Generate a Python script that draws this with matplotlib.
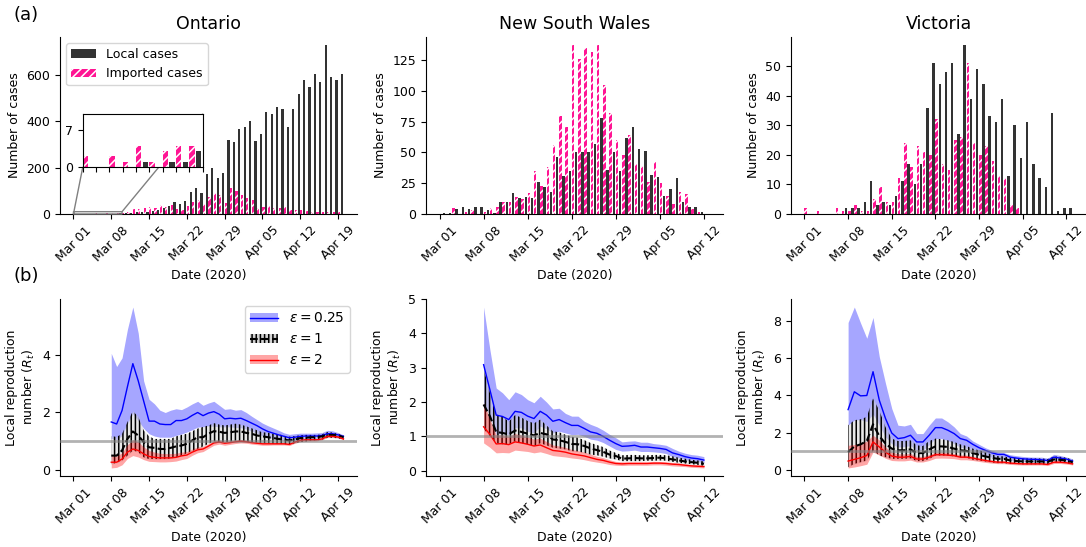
import numpy as np
import matplotlib
matplotlib.use('Agg')
import matplotlib.pyplot as plt
import matplotlib.dates as mdates
from matplotlib.patches import Patch
from matplotlib.lines import Line2D

plt.rcParams['font.size'] = 9
plt.rcParams['hatch.linewidth'] = 1.1

# daily case counts, first entry = Mar 01 2020
on_local = [0, 0, 0, 0, 1, 0, 1, 1, 3, 4, 6, 8, 10, 8, 12, 18, 26, 35, 52, 43,
            56, 95, 113, 91, 174, 200, 156, 177, 321, 312, 369, 377, 403, 317, 344,
            442, 434, 463, 452, 377, 455, 520, 581, 547, 607, 569, 729, 593, 581, 607]
on_imported = [2, 0, 2, 1, 4, 1, 3, 4, 4, 5, 10, 22, 20, 25, 29, 26, 38, 32, 40, 20,
               17, 36, 52, 60, 42, 75, 90, 80, 46, 114, 98, 81, 69, 62, 25,
               32, 35, 27, 26, 29, 17, 16, 19, 12, 9, 7, 10, 10, 9, 7]

nsw_local = [1, 1, 4, 6, 4, 6, 6, 3, 1, 10, 10, 17, 13, 14, 13, 26, 22, 18, 46, 31,
             35, 50, 50, 50, 57, 78, 36, 50, 35, 62, 71, 53, 51, 32, 30, 15, 20,
             29, 10, 6, 6, 2, 0]
nsw_imported = [0, 0, 5, 0, 2, 3, 0, 2, 5, 6, 10, 10, 14, 12, 17, 35, 23, 38, 56, 80,
                71, 137, 126, 135, 132, 137, 105, 82, 60, 48, 64, 41, 39, 26, 42, 25,
                15, 8, 18, 16, 4, 2, 0]

vic_local = [0, 0, 0, 0, 0, 0, 2, 2, 2, 4, 11, 3, 4, 3, 6, 11, 17, 10, 17, 36,
             51, 44, 48, 51, 27, 57, 39, 49, 44, 33, 31, 39, 13, 30, 19, 31, 17,
             12, 9, 34, 1, 2, 2]
vic_imported = [2, 0, 1, 0, 0, 2, 1, 1, 3, 1, 1, 5, 9, 4, 4, 12, 24, 16, 23, 21,
                20, 32, 17, 15, 25, 26, 51, 24, 20, 23, 18, 13, 12, 3, 2, 0, 0,
                0, 0, 0, 0, 0, 0]

# R_t estimates, first entry = Mar 08 2020
on_r025 = [1.67, 1.60, 2.07, 2.90, 3.70, 3.10, 2.40, 1.70, 1.70, 1.60, 1.58, 1.58, 1.72, 1.72, 1.78,
           1.90, 2.00, 1.89, 1.98, 2.03, 1.94, 1.78, 1.80, 1.78, 1.80, 1.72, 1.63, 1.54, 1.43, 1.34,
           1.28, 1.22, 1.17, 1.12, 1.14, 1.17, 1.18, 1.18, 1.18, 1.20, 1.26, 1.26, 1.22, 1.17]
on_r025_hi = [4.06, 3.60, 3.90, 4.90, 5.67, 4.76, 3.10, 2.46, 2.30, 2.08, 2.00, 2.08, 2.13, 2.10, 2.19,
              2.30, 2.39, 2.25, 2.33, 2.39, 2.25, 2.11, 2.13, 2.08, 2.10, 2.00, 1.87, 1.75, 1.63, 1.54,
              1.46, 1.38, 1.29, 1.24, 1.26, 1.28, 1.28, 1.28, 1.29, 1.30, 1.38, 1.36, 1.30, 1.22]
on_r025_lo = [1.10, 1.05, 1.20, 1.60, 1.96, 1.70, 1.45, 1.26, 1.18, 1.14, 1.14, 1.14, 1.20, 1.25, 1.32,
              1.40, 1.49, 1.50, 1.53, 1.52, 1.50, 1.50, 1.50, 1.48, 1.47, 1.42, 1.35, 1.28, 1.18, 1.13,
              1.10, 1.06, 1.03, 1.00, 1.02, 1.06, 1.07, 1.08, 1.08, 1.09, 1.16, 1.15, 1.12, 1.08]
on_r1 = [0.50, 0.50, 0.68, 1.08, 1.34, 1.20, 0.97, 0.79, 0.77, 0.73, 0.73, 0.77, 0.82, 0.85, 0.91,
         1.03, 1.14, 1.14, 1.26, 1.35, 1.33, 1.29, 1.31, 1.34, 1.34, 1.29, 1.26, 1.20, 1.17, 1.14,
         1.11, 1.08, 1.05, 1.03, 1.06, 1.11, 1.12, 1.14, 1.14, 1.17, 1.22, 1.22, 1.20, 1.14]
on_r1_hi = [1.18, 1.15, 1.26, 1.67, 2.05, 1.85, 1.38, 1.17, 1.08, 1.08, 1.08, 1.08, 1.17, 1.22, 1.26,
            1.35, 1.44, 1.50, 1.55, 1.63, 1.58, 1.55, 1.58, 1.61, 1.58, 1.52, 1.45, 1.38, 1.31, 1.30,
            1.26, 1.25, 1.19, 1.16, 1.18, 1.21, 1.22, 1.22, 1.22, 1.24, 1.32, 1.30, 1.26, 1.20]
on_r1_lo = [0.20, 0.25, 0.33, 0.50, 0.68, 0.62, 0.44, 0.38, 0.38, 0.38, 0.38, 0.40, 0.44, 0.50, 0.58,
            0.66, 0.73, 0.82, 0.91, 1.00, 0.97, 0.97, 0.98, 1.02, 1.00, 0.97, 0.97, 0.95, 0.94, 0.92,
            0.91, 0.91, 0.90, 0.89, 0.93, 0.97, 0.99, 1.02, 1.03, 1.05, 1.12, 1.12, 1.10, 1.06]
on_r2 = [0.27, 0.27, 0.38, 0.62, 0.73, 0.68, 0.56, 0.47, 0.44, 0.42, 0.42, 0.42, 0.44, 0.49, 0.52,
         0.62, 0.70, 0.73, 0.83, 0.94, 0.97, 0.93, 0.95, 0.98, 1.00, 0.98, 0.95, 0.93, 0.91, 0.91,
         0.91, 0.91, 0.91, 0.89, 0.97, 1.03, 1.05, 1.05, 1.05, 1.08, 1.17, 1.17, 1.15, 1.08]
on_r2_hi = [0.50, 0.48, 0.60, 0.88, 1.05, 0.98, 0.80, 0.68, 0.62, 0.58, 0.57, 0.57, 0.58, 0.62, 0.64,
            0.73, 0.80, 0.82, 0.91, 1.02, 1.04, 1.00, 1.01, 1.04, 1.06, 1.03, 1.00, 0.98, 0.96, 0.96,
            0.95, 0.95, 0.95, 0.93, 1.01, 1.07, 1.09, 1.09, 1.09, 1.11, 1.21, 1.20, 1.18, 1.11]
on_r2_lo = [0.07, 0.09, 0.18, 0.40, 0.50, 0.45, 0.36, 0.30, 0.29, 0.28, 0.28, 0.29, 0.31, 0.36, 0.40,
            0.51, 0.60, 0.64, 0.75, 0.86, 0.90, 0.86, 0.89, 0.92, 0.94, 0.93, 0.90, 0.88, 0.86, 0.86,
            0.87, 0.87, 0.87, 0.85, 0.93, 0.99, 1.01, 1.01, 1.01, 1.05, 1.13, 1.14, 1.12, 1.05]

nsw_r025 = [3.09, 2.36, 1.62, 1.58, 1.49, 1.73, 1.70, 1.59, 1.52, 1.73, 1.62, 1.44, 1.49, 1.40, 1.32,
            1.32, 1.23, 1.13, 1.09, 1.00, 0.89, 0.79, 0.71, 0.72, 0.74, 0.69, 0.69, 0.67, 0.65, 0.62,
            0.52, 0.47, 0.41, 0.37, 0.35, 0.31]
nsw_r025_hi = [4.77, 3.53, 2.41, 2.27, 2.07, 2.30, 2.22, 2.07, 1.98, 2.17, 2.00, 1.80, 1.82, 1.67, 1.59,
               1.59, 1.44, 1.35, 1.28, 1.18, 1.06, 0.96, 0.84, 0.86, 0.87, 0.83, 0.83, 0.79, 0.77, 0.74,
               0.65, 0.57, 0.51, 0.47, 0.45, 0.41]
nsw_r025_lo = [1.98, 1.60, 1.05, 1.10, 1.05, 1.25, 1.25, 1.15, 1.10, 1.30, 1.22, 1.10, 1.15, 1.10, 1.05,
               1.06, 1.00, 0.92, 0.89, 0.82, 0.72, 0.62, 0.57, 0.58, 0.60, 0.56, 0.56, 0.55, 0.53, 0.50,
               0.41, 0.37, 0.32, 0.28, 0.26, 0.23]
nsw_r1 = [1.93, 1.59, 1.13, 1.10, 1.06, 1.17, 1.13, 1.08, 1.03, 1.10, 1.06, 0.91, 0.89, 0.84, 0.78,
          0.77, 0.72, 0.65, 0.60, 0.55, 0.47, 0.43, 0.35, 0.36, 0.37, 0.36, 0.36, 0.37, 0.38, 0.36,
          0.33, 0.30, 0.27, 0.25, 0.23, 0.20]
nsw_r1_hi = [2.98, 2.27, 1.64, 1.58, 1.43, 1.62, 1.55, 1.45, 1.38, 1.49, 1.32, 1.15, 1.12, 1.05, 0.99,
             0.96, 0.89, 0.81, 0.75, 0.69, 0.59, 0.52, 0.45, 0.46, 0.46, 0.45, 0.45, 0.46, 0.46, 0.45,
             0.42, 0.38, 0.35, 0.32, 0.30, 0.27]
nsw_r1_lo = [1.22, 1.00, 0.81, 0.77, 0.77, 0.86, 0.81, 0.77, 0.72, 0.80, 0.74, 0.67, 0.65, 0.62, 0.57,
             0.56, 0.52, 0.47, 0.45, 0.41, 0.36, 0.33, 0.28, 0.28, 0.28, 0.28, 0.29, 0.29, 0.30, 0.29,
             0.26, 0.23, 0.21, 0.19, 0.17, 0.14]
nsw_r2 = [1.28, 1.06, 0.78, 0.79, 0.76, 0.84, 0.81, 0.77, 0.72, 0.75, 0.67, 0.59, 0.57, 0.54, 0.49,
          0.46, 0.43, 0.38, 0.33, 0.30, 0.25, 0.21, 0.20, 0.21, 0.21, 0.21, 0.21, 0.22, 0.22, 0.21,
          0.19, 0.18, 0.16, 0.14, 0.13, 0.12]
nsw_r2_hi = [1.98, 1.50, 1.04, 1.04, 1.00, 1.08, 1.04, 0.98, 0.92, 0.95, 0.85, 0.75, 0.72, 0.68, 0.62,
             0.58, 0.54, 0.48, 0.42, 0.38, 0.32, 0.27, 0.26, 0.26, 0.26, 0.26, 0.26, 0.27, 0.27, 0.26,
             0.24, 0.23, 0.20, 0.18, 0.17, 0.16]
nsw_r2_lo = [0.81, 0.68, 0.52, 0.53, 0.52, 0.60, 0.58, 0.56, 0.52, 0.55, 0.50, 0.44, 0.42, 0.40, 0.37,
             0.35, 0.32, 0.28, 0.25, 0.22, 0.18, 0.16, 0.15, 0.16, 0.16, 0.16, 0.16, 0.17, 0.17, 0.16,
             0.14, 0.13, 0.12, 0.10, 0.09, 0.08]

vic_r025 = [3.24, 4.20, 3.98, 4.00, 5.28, 3.75, 2.76, 1.98, 1.68, 1.73, 1.86, 1.50, 1.50, 1.86, 2.27,
            2.27, 2.13, 1.95, 1.68, 1.59, 1.37, 1.19, 1.05, 0.92, 0.83, 0.83, 0.68, 0.63, 0.59, 0.57,
            0.56, 0.54, 0.50, 0.68, 0.63, 0.58, 0.47]
vic_r025_hi = [7.93, 8.76, 7.90, 7.08, 8.20, 6.09, 4.65, 3.30, 2.40, 2.36, 2.45, 1.95, 1.95, 2.40, 2.79,
               2.79, 2.58, 2.31, 1.95, 1.82, 1.55, 1.37, 1.19, 1.05, 0.95, 0.92, 0.81, 0.76, 0.72, 0.69,
               0.68, 0.68, 0.63, 0.83, 0.77, 0.69, 0.59]
vic_r025_lo = [2.40, 2.67, 2.70, 2.60, 3.00, 2.40, 1.77, 1.40, 1.22, 1.25, 1.30, 1.05, 1.05, 1.35, 1.68,
               1.68, 1.57, 1.40, 1.22, 1.15, 1.00, 0.86, 0.78, 0.68, 0.62, 0.62, 0.50, 0.47, 0.45, 0.43,
               0.42, 0.41, 0.37, 0.52, 0.48, 0.45, 0.36]
vic_r1 = [0.95, 1.26, 1.37, 1.55, 2.45, 1.82, 1.41, 1.14, 1.05, 1.05, 1.10, 0.90, 0.90, 1.10, 1.26,
          1.26, 1.23, 1.14, 1.05, 1.02, 0.90, 0.81, 0.72, 0.65, 0.59, 0.59, 0.50, 0.47, 0.45, 0.45,
          0.45, 0.45, 0.43, 0.56, 0.54, 0.50, 0.41]
vic_r1_hi = [2.40, 2.67, 2.72, 2.85, 3.84, 3.20, 2.30, 1.68, 1.55, 1.55, 1.59, 1.32, 1.28, 1.55, 1.68,
             1.65, 1.59, 1.50, 1.37, 1.28, 1.14, 1.05, 0.94, 0.83, 0.74, 0.72, 0.65, 0.63, 0.61, 0.61,
             0.61, 0.61, 0.58, 0.72, 0.70, 0.65, 0.54]
vic_r1_lo = [0.14, 0.32, 0.41, 0.50, 1.05, 0.77, 0.68, 0.59, 0.59, 0.59, 0.62, 0.47, 0.47, 0.59, 0.77,
             0.77, 0.77, 0.72, 0.68, 0.65, 0.54, 0.50, 0.45, 0.40, 0.36, 0.36, 0.32, 0.31, 0.30, 0.30,
             0.30, 0.30, 0.29, 0.41, 0.40, 0.36, 0.30]
vic_r2 = [0.47, 0.56, 0.65, 0.77, 1.50, 1.23, 0.95, 0.74, 0.68, 0.68, 0.72, 0.58, 0.58, 0.68, 0.81,
          0.81, 0.79, 0.76, 0.68, 0.68, 0.63, 0.56, 0.50, 0.45, 0.41, 0.41, 0.36, 0.34, 0.32, 0.32,
          0.32, 0.32, 0.29, 0.41, 0.41, 0.38, 0.32]
vic_r2_hi = [1.32, 1.36, 1.40, 1.55, 1.86, 1.60, 1.22, 0.95, 0.86, 0.85, 0.88, 0.72, 0.72, 0.82, 0.95,
             0.95, 0.92, 0.88, 0.80, 0.79, 0.73, 0.65, 0.58, 0.52, 0.48, 0.47, 0.42, 0.40, 0.38, 0.38,
             0.38, 0.38, 0.35, 0.48, 0.47, 0.44, 0.38]
vic_r2_lo = [0.10, 0.15, 0.22, 0.30, 0.95, 0.80, 0.62, 0.50, 0.48, 0.48, 0.52, 0.42, 0.42, 0.50, 0.62,
             0.63, 0.62, 0.60, 0.54, 0.54, 0.50, 0.45, 0.40, 0.36, 0.33, 0.33, 0.29, 0.27, 0.26, 0.26,
             0.26, 0.26, 0.23, 0.34, 0.34, 0.31, 0.26]

regions = ['Ontario', 'New South Wales', 'Victoria']
local = [on_local, nsw_local, vic_local]
imported = [on_imported, nsw_imported, vic_imported]
rt = [
    [(on_r025, on_r025_lo, on_r025_hi), (on_r1, on_r1_lo, on_r1_hi), (on_r2, on_r2_lo, on_r2_hi)],
    [(nsw_r025, nsw_r025_lo, nsw_r025_hi), (nsw_r1, nsw_r1_lo, nsw_r1_hi), (nsw_r2, nsw_r2_lo, nsw_r2_hi)],
    [(vic_r025, vic_r025_lo, vic_r025_hi), (vic_r1, vic_r1_lo, vic_r1_hi), (vic_r2, vic_r2_lo, vic_r2_hi)],
]
n_ticks = [8, 7, 7]
rt_yticks = [[0, 2, 4], [0, 1, 2, 3, 4, 5], [0, 2, 4, 6, 8]]

mar01 = mdates.date2num(np.datetime64('2020-03-01'))
mar08 = mar01 + 7

fig = plt.figure(figsize=(10.86, 5.47), dpi=100)
lefts = [0.0552, 0.3923, 0.7284]
widths = [0.2735, 0.2735, 0.2716]

for i in range(3):
    ax = fig.add_axes([lefts[i], 0.6088, widths[i], 0.3236])
    ax2 = fig.add_axes([lefts[i], 0.1298, widths[i], 0.3236], sharex=ax)

    days = mar01 + np.arange(len(local[i]))
    ax.bar(days, imported[i], width=0.4, align='edge', color='deeppink',
           edgecolor='white', hatch='////', lw=0, label='Imported cases')
    ax.bar(days + 0.5, local[i], width=0.4, align='edge', color='#333333',
           label='Local cases')
    ax.set_title(regions[i], fontsize=12.5)
    ax.set_ylabel('Number of cases')
    ax.set_xlabel('Date (2020)')

    rdays = mar08 + np.arange(len(rt[i][0][0]))
    (m1, l1, h1), (m2, l2, h2), (m3, l3, h3) = rt[i]
    ax2.fill_between(rdays, l1, h1, color='blue', alpha=0.35, lw=0)
    ax2.plot(rdays, m1, color='blue', lw=1)
    ax2.fill_between(rdays, l2, h2, color='lightgrey', alpha=0.5, lw=0)
    ax2.fill_between(rdays, l2, h2, facecolor='none', edgecolor='black', hatch='||||', lw=0)
    ax2.plot(rdays, m2, color='black', ls='--', lw=1.5)
    ax2.fill_between(rdays, l3, h3, color='red', alpha=0.35, lw=0)
    ax2.plot(rdays, m3, color='red', lw=1)
    ax2.axhline(1, color='grey', lw=2, alpha=0.6, zorder=5)
    ax2.set_yticks(rt_yticks[i])
    ax2.set_ylabel('Local reproduction\nnumber ($R_t$)', multialignment='center')
    ax2.set_xlabel('Date (2020)')

    ticks = mar01 + 7 * np.arange(n_ticks[i])
    for a in (ax, ax2):
        a.spines['top'].set_visible(False)
        a.spines['right'].set_visible(False)
        a.set_xticks(ticks)
        a.set_xticklabels([mdates.num2date(t).strftime('%b %d') for t in ticks], rotation=45)
        a.tick_params(labelsize=9)

    if i == 0:
        handles, labels = ax.get_legend_handles_labels()
        ax.legend(handles[::-1], labels[::-1], loc='upper left', fontsize=9)

        # zoom on the first days of imported cases
        axins = ax.inset_axes([0.077, 0.266, 0.404, 0.30])
        axins.bar(days, imported[i], width=0.4, align='edge', color='deeppink',
                  edgecolor='white', hatch='////', lw=0)
        axins.bar(days + 0.5, local[i], width=0.4, align='edge', color='#333333')
        axins.set_xlim(mar01, mar01 + 9)
        axins.set_ylim(0, 10)
        axins.set_xticks(mar01 + np.arange(10))
        axins.set_xticklabels([])
        axins.set_yticks([0, 7])
        axins.tick_params(labelsize=9)
        ax.indicate_inset_zoom(axins, edgecolor='grey', alpha=1)

        leg_handles = [
            (Patch(facecolor='blue', alpha=0.35), Line2D([], [], color='blue', lw=1)),
            (Patch(facecolor='lightgrey', edgecolor='black', hatch='||||', lw=0),
             Line2D([], [], color='black', ls='--', lw=1.5)),
            (Patch(facecolor='red', alpha=0.35), Line2D([], [], color='red', lw=1)),
        ]
        ax2.legend(leg_handles, [r'$\epsilon = 0.25$', r'$\epsilon = 1$', r'$\epsilon = 2$'],
                   loc='upper right', fontsize=10)

fig.text(0.012, 0.972, '(a)', fontsize=13, va='center')
fig.text(0.012, 0.495, '(b)', fontsize=13, va='center')

fig.savefig('out.png', dpi=100)
